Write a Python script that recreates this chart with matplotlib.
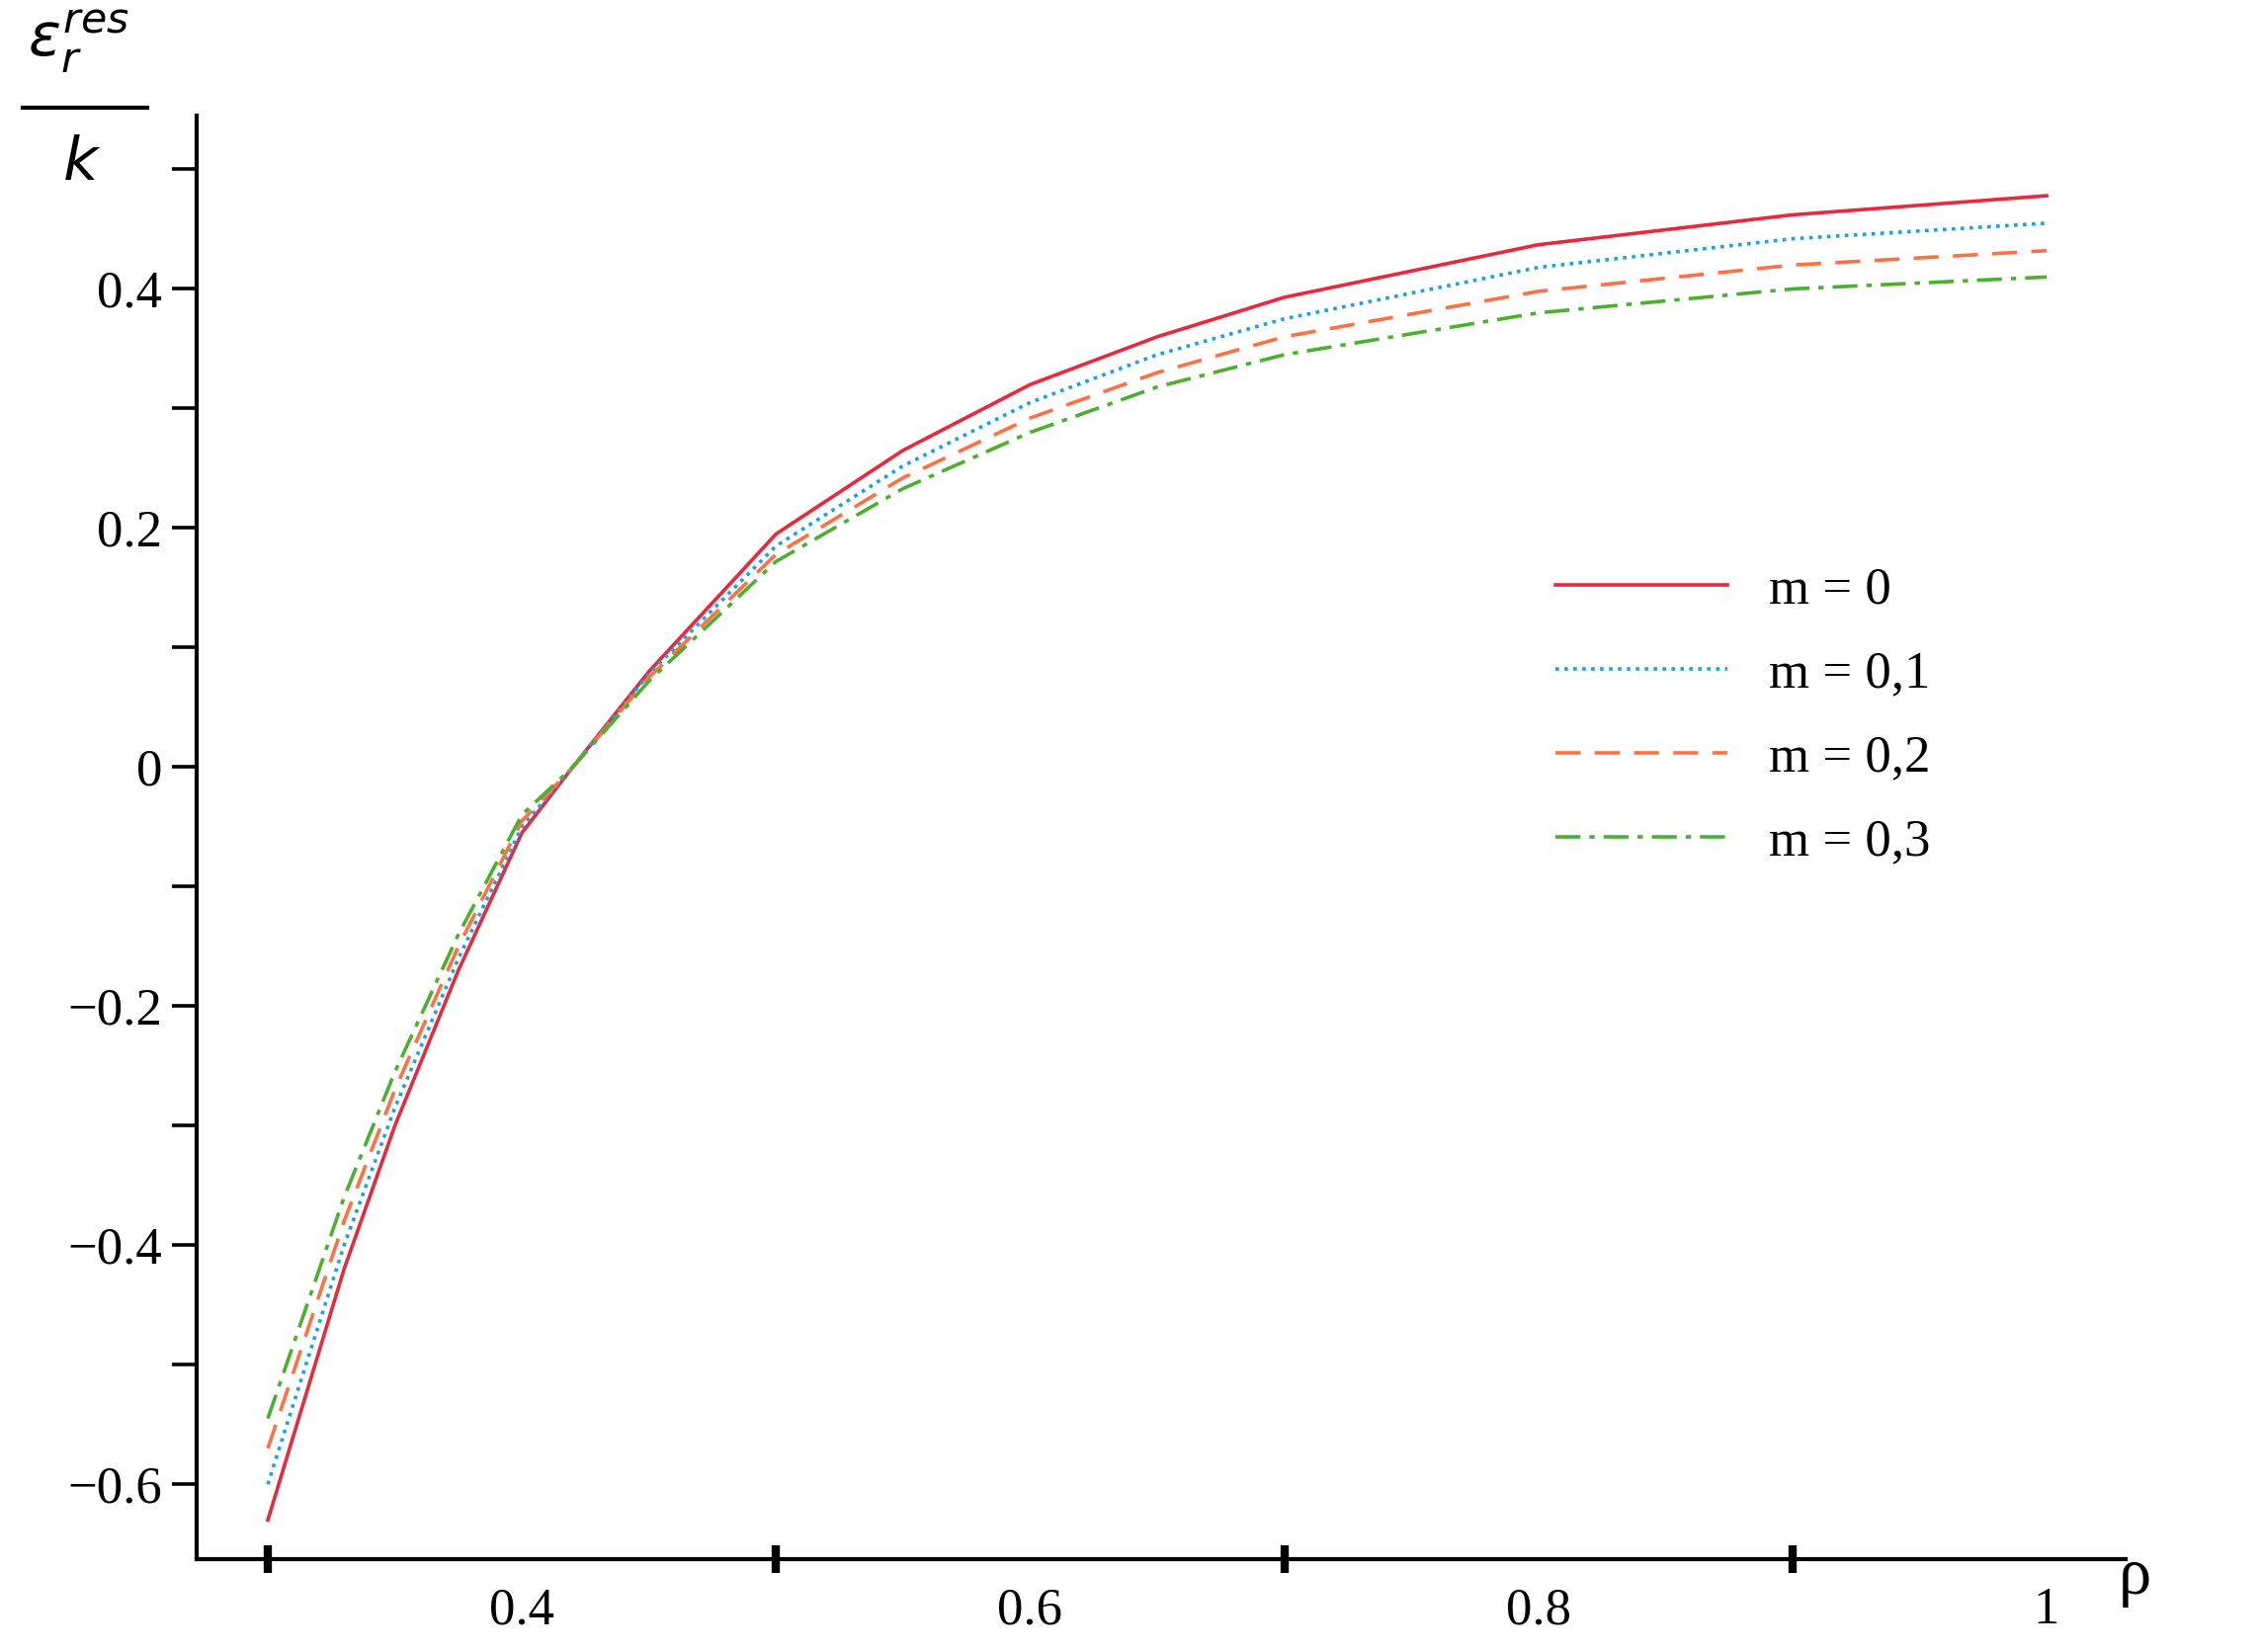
import matplotlib
matplotlib.use("Agg")
import matplotlib.pyplot as plt
import numpy as np

rho = [0.3, 0.33, 0.35, 0.375, 0.4, 0.42, 0.45, 0.5, 0.55, 0.6, 0.65, 0.7, 0.8, 0.9, 1.0]
m0  = [-0.63, -0.42, -0.30, -0.17, -0.055, 0.0, 0.08, 0.195, 0.265, 0.32, 0.36, 0.393, 0.437, 0.462, 0.478]
m1  = [-0.60, -0.40, -0.285, -0.16, -0.05, 0.0, 0.078, 0.185, 0.252, 0.305, 0.345, 0.375, 0.418, 0.442, 0.455]
m2  = [-0.57, -0.38, -0.27, -0.15, -0.045, 0.0, 0.075, 0.178, 0.242, 0.292, 0.33, 0.36, 0.398, 0.42, 0.432]
m3  = [-0.545, -0.36, -0.255, -0.14, -0.04, 0.0, 0.072, 0.172, 0.233, 0.28, 0.318, 0.345, 0.38, 0.40, 0.41]
labels = ["m = 0", "m = 0,1", "m = 0,2", "m = 0,3"]

plt.rcParams['font.family'] = ['Liberation Serif', 'DejaVu Serif']
fig = plt.figure(figsize=(11.44, 8.36), dpi=200)
ax = fig.add_axes([0.087, 0.056, 0.853, 0.874])

styles = [dict(color='#e8283c', ls='-'),
          dict(color='#1aa0e6', ls=(0, (1, 1.5))),
          dict(color='#ff7043', ls=(0, (7, 4))),
          dict(color='#4caf30', ls=(0, (7, 2.5, 1.5, 2.5)))]
for y, lab, st in zip([m0, m1, m2, m3], labels, styles):
    ax.plot(rho, y, lw=1.3, label=lab, **st)

ax.set_xlim(0.272, 1.031)
ax.set_ylim(-0.663, 0.545)
ax.spines['top'].set_visible(False)
ax.spines['right'].set_visible(False)
ax.spines['left'].set_linewidth(1.5)
ax.spines['bottom'].set_linewidth(1.5)
ax.set_xticks([0.4, 0.6, 0.8, 1.0])
ax.set_xticklabels(['0.4', '0.6', '0.8', '1'])
ax.set_xticks([0.3, 0.5, 0.7, 0.9], minor=True)
ax.set_yticks([-0.6, -0.4, -0.2, 0, 0.2, 0.4])
ax.set_yticklabels(['\u22120.6', '\u22120.4', '\u22120.2', '0', '0.2', '0.4'])
ax.set_yticks([-0.5, -0.3, -0.1, 0.1, 0.3, 0.5], minor=True)
ax.tick_params(axis='x', which='major', direction='in', length=0, labelsize=19, pad=10)
ax.tick_params(axis='x', which='minor', direction='inout', length=10, width=3)
ax.tick_params(axis='y', which='both', direction='out', length=9, width=1.3, labelsize=19)

leg = ax.legend(loc='upper left', bbox_to_anchor=(0.68, 0.72), frameon=False,
                fontsize=19, handlelength=3.3, labelspacing=0.7)

fig.text(0.937, 0.045, 'ρ', fontsize=24, ha='left', va='center')
fig.text(0.035, 0.975, r'$\varepsilon_r^{res}$', fontsize=22, ha='center', va='center')
fig.add_artist(plt.Line2D([0.01, 0.065], [0.935, 0.935], color='black', lw=1.5))
fig.text(0.036, 0.9, r'$k$', fontsize=22, ha='center', va='center')

fig.savefig('out.png', dpi=200)
